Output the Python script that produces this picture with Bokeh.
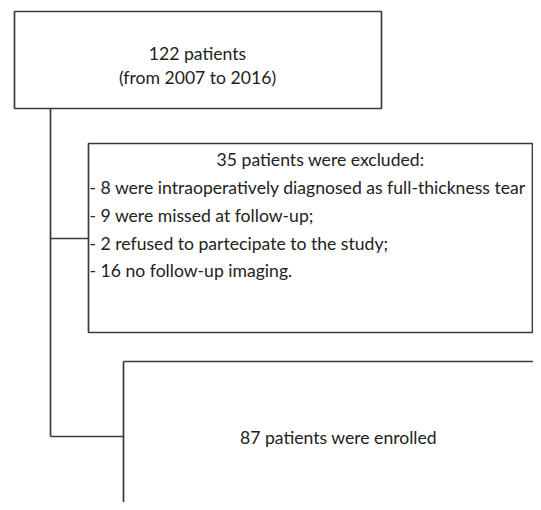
from bokeh.plotting import figure
from bokeh.models import Range1d
from bokeh.core.properties import value
from bokeh.embed import file_html
from bokeh.resources import INLINE

# ---- content ----
top_lines = ["122 patients", "(from 2007 to 2016)"]
excluded_title = "35 patients were excluded:"
excluded_items = [
    "- 8 were intraoperatively diagnosed as full-thickness tear",
    "- 9 were missed at follow-up;",
    "- 2 refused to partecipate to the study;",
    "- 16 no follow-up imaging.",
]
enrolled_text = "87 patients were enrolled"

FONT = "Lato"
FS = "17.6px"
LC = "#3a3a3a"
TC = "#222222"

W, H = 533, 502
p = figure(width=W, height=H, output_backend="svg", toolbar_location=None,
           x_range=Range1d(0, W), y_range=Range1d(H, 0),
           min_border=0)
p.axis.visible = False
p.grid.visible = False
p.outline_line_color = None
p.background_fill_color = "white"
p.border_fill_color = "white"

# box 1
p.quad(left=[14], right=[381], top=[11], bottom=[108], fill_color="white",
       line_color=LC, line_width=1.7)
# box 2
p.quad(left=[88], right=[532], top=[143], bottom=[332], fill_color="white",
       line_color=LC, line_width=1.7)
# box 3 (extends beyond the frame)
p.multi_line(xs=[[123, 123], [123, 560]], ys=[[530, 361], [361, 361]],
             line_color=LC, line_width=1.7)
# connectors
p.multi_line(xs=[[50, 50], [50, 88], [50, 123]],
             ys=[[108, 436], [238, 238], [436, 436]],
             line_color=LC, line_width=1.7)

common = dict(text_baseline="middle", text_font=value(FONT),
              text_font_size=FS, text_color=TC)
p.text(x=[197, 197], y=[53, 77], text=top_lines, text_align="center", **common)
p.text(x=[320], y=[159], text=[excluded_title], text_align="center", **common)
p.text(x=[89] * len(excluded_items), y=[187, 215, 243, 270],
       text=excluded_items, text_align="left", **common)
p.text(x=[338], y=[437], text=[enrolled_text], text_align="center", **common)

open("out.html", "w").write(file_html(p, INLINE))
